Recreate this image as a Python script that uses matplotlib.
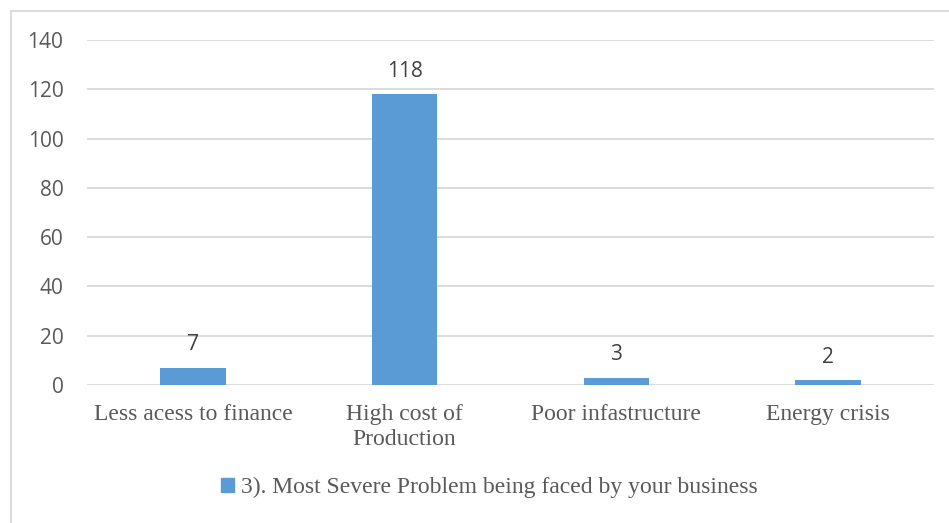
import matplotlib.pyplot as plt
from matplotlib.patches import Rectangle

categories = ["Less acess to finance", "High cost of\nProduction",
              "Poor infastructure", "Energy crisis"]
counts = [7, 118, 3, 2]
series_name = "3). Most Severe Problem being faced by your business"
y_ticks = [0, 20, 40, 60, 80, 100, 120, 140]

bar_color = "#5b9bd5"
grid_color = "#d9d9d9"
text_color = "#595959"

fig = plt.figure(figsize=(9.49, 5.23), dpi=100)
ax = fig.add_axes([0.0917, 0.2639, 0.8925, 0.6596])

# chart frame (only top and left edges fall inside the image)
fig.patches.append(Rectangle((11 / 949, -0.05), 1.2, 1.05 - 11 / 523,
                             transform=fig.transFigure, fill=False,
                             edgecolor=grid_color, linewidth=1.3))

x = range(len(categories))
bars = ax.bar(x, counts, width=0.31, color=bar_color, zorder=2)

for b, v in zip(bars, counts):
    ax.annotate(str(v), (b.get_x() + b.get_width() / 2, v),
                xytext=(0, 9), textcoords="offset points",
                ha="center", va="bottom", fontsize=15, color="#404040",
                family="Open Sans")

ax.set_xlim(-0.5, len(categories) - 0.5)
ax.set_ylim(0, 140)
ax.set_yticks(y_ticks)
ax.set_yticklabels([str(t) for t in y_ticks], family="Open Sans",
                   fontsize=15, color=text_color)
ax.set_xticks(list(x))
ax.set_xticklabels(categories, family="Liberation Serif", fontsize=17,
                   color=text_color, linespacing=1.25)
ax.tick_params(axis="both", length=0)
ax.tick_params(axis="y", pad=17)
ax.tick_params(axis="x", pad=14)
ax.yaxis.grid(True, color=grid_color, linewidth=1.3, zorder=0)
for s in ax.spines.values():
    s.set_visible(False)

leg = fig.legend([Rectangle((0, 0), 1, 1, color=bar_color)], [series_name],
                 loc="center", bbox_to_anchor=(0.516, 0.068), frameon=False,
                 handlelength=0.55, handleheight=0.55, handletextpad=0.3,
                 prop={"family": "Liberation Serif", "size": 17})
for t in leg.get_texts():
    t.set_color(text_color)

fig.savefig("out.png", dpi=100)
